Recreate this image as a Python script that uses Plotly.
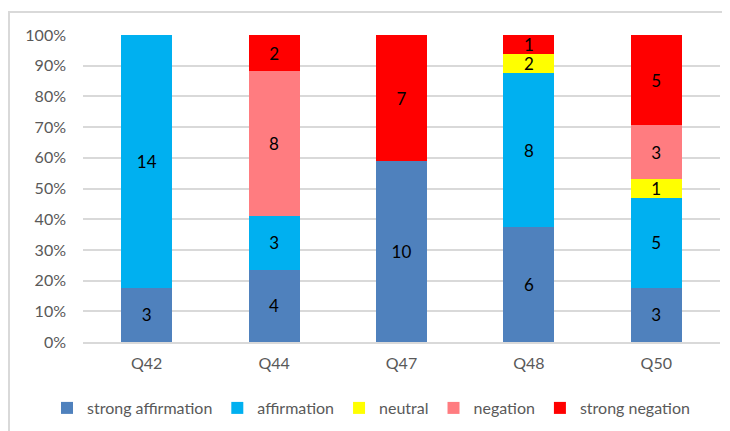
import plotly.graph_objects as go

categories = ["Q42", "Q44", "Q47", "Q48", "Q50"]
series_names = ["strong affirmation", "affirmation", "neutral", "negation", "strong negation"]
# segment sizes as drawn (counts)
strong_affirmation = [3, 4, 10, 6, 3]
affirmation = [14, 3, 0, 8, 5]
neutral = [0, 0, 0, 1, 1]
negation = [0, 8, 0, 0, 3]
strong_negation = [0, 2, 7, 1, 5]
# data labels as printed on the chart
strong_affirmation_labels = [3, 4, 10, 6, 3]
affirmation_labels = [14, 3, 0, 8, 5]
neutral_labels = [0, 0, 0, 2, 1]
negation_labels = [0, 8, 0, 0, 3]
strong_negation_labels = [0, 2, 7, 1, 5]
colors = ["#4F81BD", "#00B0F0", "#FFFF00", "#FF7C80", "#FF0000"]
tick_vals = [0, 10, 20, 30, 40, 50, 60, 70, 80, 90, 100]
tick_text = [f"{v}%" for v in tick_vals]

all_series = [strong_affirmation, affirmation, neutral, negation, strong_negation]
all_labels = [strong_affirmation_labels, affirmation_labels, neutral_labels,
              negation_labels, strong_negation_labels]

fig = go.Figure()
for name, vals, labs, col in zip(series_names, all_series, all_labels, colors):
    fig.add_trace(go.Bar(
        x=categories, y=vals, name=name,
        marker=dict(color=col, line=dict(width=0)),
        text=[str(v) if v else "" for v in labs],
        textposition="inside", insidetextanchor="middle",
        textangle=0, constraintext="none",
        textfont=dict(family="Lato", size=17, color="#000000"),
        hoverinfo="skip",
    ))

fig.update_layout(
    barmode="stack", barnorm="percent", bargap=0.6,
    width=722, height=423,
    margin=dict(l=75, r=10, t=27, b=89, autoexpand=False),
    paper_bgcolor="white", plot_bgcolor="white",
    font=dict(family="Lato", size=16, color="#595959"),
    xaxis=dict(showgrid=False, showline=True, linecolor="#D9D9D9", linewidth=2,
               ticks="", tickfont=dict(size=16, color="#595959"), ticklabelstandoff=6,
               automargin=False),
    yaxis=dict(range=[0, 100], tickvals=tick_vals, ticktext=tick_text,
               showgrid=True, gridcolor="#D9D9D9", gridwidth=2, zeroline=False,
               ticks="", tickfont=dict(size=16, color="#595959"), ticklabelstandoff=16,
               automargin=False),
    legend=dict(orientation="h", x=-0.0565, xanchor="left",
                y=-0.215, yanchor="middle",
                font=dict(size=16, color="#595959"), traceorder="normal",
                itemwidth=30, tracegroupgap=0),
    showlegend=True,
    shapes=[dict(type="rect", xref="paper", yref="paper",
                 x0=-0.1162, x1=1.2, y0=-0.5, y1=1.0749,
                 line=dict(color="#D9D9D9", width=2), fillcolor="rgba(0,0,0,0)", layer="below")],
)

fig.write_html("out.html")
